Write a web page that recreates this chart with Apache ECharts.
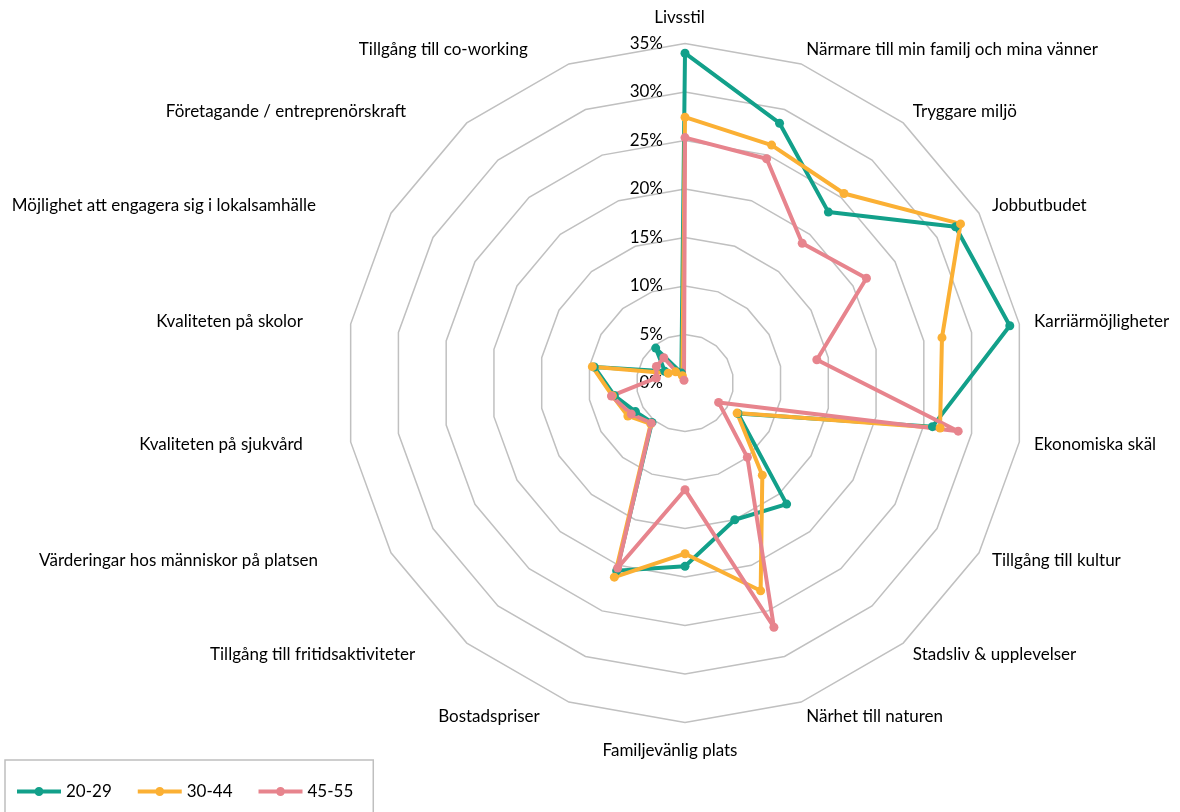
<!DOCTYPE html>
<html>
<head>
<meta charset="utf-8">
<script src="https://cdn.jsdelivr.net/npm/echarts@6/dist/echarts.min.js"></script>
<style>
  html, body { margin: 0; padding: 0; background: #fff; }
  #chart { width: 1180px; height: 812px; }
</style>
</head>
<body>
<div id="chart"></div>
<script>
// indikatorer, medurs från toppen
const categories = [
  'Livsstil',
  'Närmare till min familj och mina vänner',
  'Tryggare miljö',
  'Jobbutbudet',
  'Karriärmöjligheter',
  'Ekonomiska skäl',
  'Tillgång till kultur',
  'Stadsliv & upplevelser',
  'Närhet till naturen',
  'Familjevänlig plats',
  'Bostadspriser',
  'Tillgång till fritidsaktiviteter',
  'Värderingar hos människor på platsen',
  'Kvaliteten på sjukvård',
  'Kvaliteten på skolor',
  'Möjlighet att engagera sig i lokalsamhälle',
  'Företagande / entreprenörskraft',
  'Tillgång till co-working'
]
const seriesNames = ['20-29', '30-44', '45-55']
// andel i procent
const age20_29 = [34.0, 28.5, 23.0, 32.2, 34.0, 25.9, 6.3, 16.3, 15.0, 18.9, 20.6, 5.3, 5.9, 7.4, 9.5, 2.4, 4.7, 1.1]
const age30_44 = [27.4, 26.1, 25.5, 32.8, 26.9, 26.7, 6.2, 12.4, 22.8, 17.6, 21.3, 5.5, 6.8, 7.6, 9.7, 2.0, 1.5, 0.8]
const age45_55 = [25.3, 24.6, 18.8, 21.6, 13.8, 28.6, 4.0, 10.0, 26.8, 11.0, 20.3, 5.4, 6.4, 7.7, 3.0, 3.4, 3.4, 0.3]
const axisMax = 35
const axisStep = 5

const colors = ['#12a08a', '#fbb034', '#e7848d']
const font = 'Lato, "Open Sans", sans-serif'

// echarts ritar radarn moturs -> vänd ordningen (första axeln ligger kvar överst)
const order = [0].concat(categories.map((_, i) => i).slice(1).reverse())
const cw = arr => order.map(i => arr[i])

// extra luft runt etiketterna (top, right, bottom, left) så de hamnar som i Excel
const namePadding = {
  'Livsstil': [0, 11, 2, 0],
  'Familjevänlig plats': [5, 30, 0, 0],
  'Bostadspriser': [0, 24, 0, 0],
  'Tillgång till fritidsaktiviteter': [0, 42, 0, 0],
  'Värderingar hos människor på platsen': [0, 60, 0, 0],
  'Kvaliteten på sjukvård': [0, 33, 0, 0],
  'Kvaliteten på skolor': [0, 33, 0, 0],
  'Möjlighet att engagera sig i lokalsamhälle': [0, 62, 0, 0],
  'Företagande / entreprenörskraft': [0, 51, 0, 0],
  'Tillgång till co-working': [0, 36, 0, 0]
}

const indicator = cw(categories).map((name, i) => {
  const item = { name: name, min: 0, max: axisMax }
  if (namePadding[name]) item.nameTextStyle = { padding: namePadding[name] }
  // bara första axeln visar skalan
  if (i === 0) item.axisLabel = { show: true }
  return item
})

// linje med punkt i mitten, som i Excel-legenden
const legendIcon = 'path://M0,5H44V9H0Z M17.5,7a4.5,4.5 0 1,1 9,0a4.5,4.5 0 1,1 -9,0Z'

const myChart = echarts.init(document.getElementById('chart'))
const option = {
  animation: false,
  color: colors,
  textStyle: { fontFamily: font },
  legend: {
    data: seriesNames,
    left: 5,
    top: 760,
    orient: 'horizontal',
    padding: [23, 20, 40, 12],
    borderColor: '#bfbfbf',
    borderWidth: 1.5,
    icon: legendIcon,
    itemWidth: 44,
    itemHeight: 14,
    itemGap: 26,
    textStyle: { fontSize: 17, color: '#000', fontFamily: font }
  },
  radar: {
    center: [685, 383],
    radius: 339.5,
    startAngle: 90,
    shape: 'polygon',
    splitNumber: axisMax / axisStep,
    indicator: indicator,
    axisNameGap: 15,
    axisName: { color: '#000', fontSize: 17, fontFamily: font },
    axisLine: { show: false },
    axisTick: { show: false },
    axisLabel: {
      show: false,
      color: '#000',
      fontSize: 17,
      fontFamily: font,
      margin: 22,
      formatter: v => v + '%'
    },
    splitLine: { lineStyle: { color: '#c0c0c0', width: 1.5 } },
    splitArea: { show: false }
  },
  series: [
    {
      type: 'radar',
      symbol: 'circle',
      symbolSize: 9,
      lineStyle: { width: 4 },
      data: [
        { name: seriesNames[0], value: cw(age20_29), itemStyle: { color: colors[0] }, lineStyle: { color: colors[0], width: 4 } },
        { name: seriesNames[1], value: cw(age30_44), itemStyle: { color: colors[1] }, lineStyle: { color: colors[1], width: 4 } },
        { name: seriesNames[2], value: cw(age45_55), itemStyle: { color: colors[2] }, lineStyle: { color: colors[2], width: 4 } }
      ]
    }
  ]
}
myChart.setOption(option)
</script>
</body>
</html>
